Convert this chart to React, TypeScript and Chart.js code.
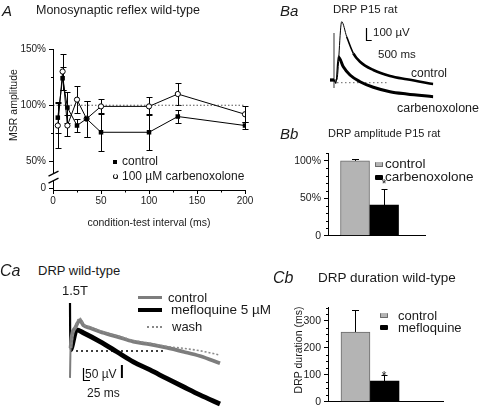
import React, { useEffect, useRef } from "react";
import { Chart, registerables } from "chart.js";

Chart.register(...registerables);

const FONT = "Arial, 'Liberation Sans', Helvetica, sans-serif";
Chart.defaults.font.family = FONT;
Chart.defaults.color = "#1a1a1a";

// ---------------- Panel A : monosynaptic reflex ----------------
const A_INTERVALS = [5, 10, 15, 25, 35, 50, 100, 130, 200];
const A_CONTROL = [89, 124, 98, 82, 88, 76, 76, 90, 82];
const A_CONTROL_SEM = [14, 10, 14, 6, 16, 17, 16, 6, 3];
const A_CARB = [82, 130, 82, 105, 88, 99, 99, 110, 92];
const A_CARB_SEM = [20, 16, 9, 12, 16, 7, 8, 10, 7];
const A_X_TICKS = [0, 50, 100, 150, 200];
const A_Y_TICKS = [26, 50, 100, 150]; // 26 = where the broken axis shows its zero
const A_Y_LABELS = ["0", "50%", "100%", "150%"];
const A_REFERENCE = 100;

// ---------------- Panel Ba : DRP traces (ms, µV) ----------------
const BA_CONTROL_T = [0, 333, 558, 974, 1390, 1940, 2498, 3605, 4995, 6385, 8600];
const BA_CONTROL = [22, 22, 22, 508, 383, 245, 175, 106, 56, 28, -11];
const BA_CARB_T = [0, 333, 500, 691, 1107, 1665, 2498, 3605, 4995, 6385, 8600];
const BA_CARB = [22, 22, -5, 217, 133, 64, 8, -38, -75, -94, -117];
const BA_ARTIFACT_T = [333, 333];
const BA_ARTIFACT = [414, -44];
const BA_BASELINE_T = [583, 4800];

// ---------------- Panel Bb : DRP amplitude ----------------
const BB_GROUPS = ["control", "carbenoxolone"];
const BB_MEAN = [100, 41];
const BB_SEM = [2, 22];
const BB_Y_TICKS = [0, 50, 100];
const BB_Y_LABELS = ["0", "50%", "100%"];

// ---------------- Panel Ca : DRP traces (ms, µV) ----------------
const CA_CONTROL_T = [0, 2, 17, 33, 44, 67, 100, 156, 211, 267, 322, 378, 433, 500];
const CA_CONTROL = [-112, 12, 96, 129, 108, 96, 80, 60, 39, 28, 14, -3, -21, -51];
const CA_WASH_T = [2, 17, 33, 44, 67, 100, 156, 211, 267, 322, 378, 433, 500];
const CA_WASH = [12, 100, 137, 112, 100, 84, 64, 44, 32, 19, 11, 1, -17];
const CA_MEFLO_T = [0, 1, 22, 44, 100, 156, 211, 267, 322, 378, 433, 500];
const CA_MEFLO = [200, 4, 88, 76, 39, -3, -45, -79, -114, -149, -183, -221];
const CA_BASELINE_T = [20, 317];
const CA_MARK_T = [173, 173];
const CA_MARK = [-58, -113];

// ---------------- Panel Cb : DRP duration ----------------
const CB_GROUPS = ["control", "mefloquine"];
const CB_MEAN = [259, 77];
const CB_SEM = [82, 23];
const CB_Y_TICKS = [0, 100, 200, 300];
const CB_Y_LABELS = ["0", "100", "200", "300"];

// group position on the (hidden) x scale of the bar panels
const BB_X = 0.428;
const CB_X = 0.365;

const pts = (xs: number[], ys: number[]) => xs.map((x, i) => ({ x, y: ys[i] }));

// ---------------- plugins ----------------
const errorBarPlugin = {
  id: "errorBars",
  beforeDatasetsDraw(chart: any) {
    const ctx = chart.ctx;
    chart.data.datasets.forEach((ds: any, i: number) => {
      if (!ds.errorBars) return;
      const meta = chart.getDatasetMeta(i);
      const ys = chart.scales[meta.yAxisID];
      ctx.save();
      ctx.strokeStyle = "#000";
      ctx.lineWidth = 1;
      meta.data.forEach((el: any, j: number) => {
        const err = ds.errorBars[j];
        if (err == null) return;
        const v = ds.data[j].y;
        const x = Math.round(el.x) + 0.5;
        const yHi = Math.round(ys.getPixelForValue(v + err)) + 0.5;
        const yLo = Math.round(ys.getPixelForValue(ds.errorUpOnly ? v : v - err)) + 0.5;
        const cap = ds.errorCap ?? 6;
        ctx.beginPath();
        ctx.moveTo(x, yLo);
        ctx.lineTo(x, yHi);
        ctx.moveTo(x - cap / 2, yHi);
        ctx.lineTo(x + cap / 2, yHi);
        if (!ds.errorUpOnly) {
          ctx.moveTo(x - cap / 2, yLo);
          ctx.lineTo(x + cap / 2, yLo);
        }
        ctx.stroke();
      });
      ctx.restore();
    });
  },
};

const minorTicksPlugin = {
  id: "minorTicks",
  afterDraw(chart: any, _a: any, opts: any) {
    const list = (opts && opts.list) || [];
    const ctx = chart.ctx;
    ctx.save();
    ctx.strokeStyle = "#000";
    ctx.lineWidth = 1;
    list.forEach((m: any) => {
      const s = chart.scales[m.axis];
      for (let v = m.from; v <= m.to + 1e-9; v += m.step) {
        if (s.ticks.some((t: any) => Math.abs(t.value - v) < 1e-6)) continue;
        const p = Math.round(s.getPixelForValue(v)) + 0.5;
        ctx.beginPath();
        if (m.axis === "x") {
          const y = chart.chartArea.bottom;
          ctx.moveTo(p, y);
          ctx.lineTo(p, y + m.len);
        } else {
          const x = Math.round(chart.chartArea.left) + 0.5;
          ctx.moveTo(x, p);
          ctx.lineTo(x - m.len, p);
        }
        ctx.stroke();
      }
    });
    ctx.restore();
  },
};

const axisBreakPlugin = {
  id: "axisBreak",
  afterDraw(chart: any, _a: any, opts: any) {
    if (!opts || opts.hi == null) return;
    const { ctx, chartArea } = chart;
    const y = chart.scales.y;
    const x = Math.round(chartArea.left) + 0.5;
    const pHi = y.getPixelForValue(opts.hi);
    const pLo = y.getPixelForValue(opts.lo);
    ctx.save();
    ctx.strokeStyle = "#000";
    ctx.lineWidth = 1;
    ctx.beginPath();
    ctx.moveTo(x, chartArea.top);
    ctx.lineTo(x, pHi);
    ctx.moveTo(x, pLo);
    ctx.lineTo(x, chartArea.bottom);
    ctx.stroke();
    ctx.lineWidth = 1.3;
    ctx.beginPath();
    [pHi, pLo].forEach((p: number) => {
      ctx.moveTo(x - 5, p + 2.5);
      ctx.lineTo(x + 5, p - 2.5);
    });
    ctx.stroke();
    ctx.restore();
  },
};

const scaleBarPlugin = {
  id: "scaleBar",
  afterDatasetsDraw(chart: any, _a: any, opts: any) {
    if (!opts || opts.t0 == null) return;
    const { ctx } = chart;
    const xs = chart.scales.x;
    const ys = chart.scales.y;
    const x0 = Math.round(xs.getPixelForValue(opts.t0)) + 0.5;
    const x1 = xs.getPixelForValue(opts.t0 + opts.dt);
    const y0 = Math.round(ys.getPixelForValue(opts.v0)) + 0.5;
    const y1 = ys.getPixelForValue(opts.v0 + opts.dv);
    ctx.save();
    ctx.strokeStyle = "#000";
    ctx.lineWidth = 1.2;
    ctx.beginPath();
    ctx.moveTo(x0, y1);
    ctx.lineTo(x0, y0);
    ctx.lineTo(x1, y0);
    ctx.stroke();
    ctx.restore();
  },
};

const PLUGINS = [errorBarPlugin, minorTicksPlugin, axisBreakPlugin, scaleBarPlugin];

const tickFont = (size: number) => ({ size, family: FONT });

// ---------------- configs ----------------
function configA(): any {
  return {
    type: "line",
    data: {
      datasets: [
        {
          label: "control",
          data: pts(A_INTERVALS, A_CONTROL),
          borderColor: "#000",
          borderWidth: 1,
          pointStyle: "rect",
          pointRadius: 3.2,
          pointBackgroundColor: "#000",
          pointBorderColor: "#000",
          pointBorderWidth: 0,
          errorBars: A_CONTROL_SEM,
          errorCap: 6,
        },
        {
          label: "100 µM carbenoxolone",
          data: pts(A_INTERVALS, A_CARB),
          borderColor: "#000",
          borderWidth: 1,
          pointStyle: "circle",
          pointRadius: 2.6,
          pointBackgroundColor: "#fff",
          pointBorderColor: "#000",
          pointBorderWidth: 1,
          errorBars: A_CARB_SEM,
          errorCap: 6,
        },
        {
          label: "reference",
          data: pts([A_X_TICKS[0], A_X_TICKS[A_X_TICKS.length - 1]], [A_REFERENCE, A_REFERENCE]),
          borderColor: "#555",
          borderWidth: 1,
          borderDash: [1.5, 2],
          pointRadius: 0,
        },
      ],
    },
    options: {
      responsive: false,
      animation: false,
      events: [],
      layout: { padding: { left: 3, right: 15, top: 49, bottom: 1 } },
      plugins: {
        legend: { display: false },
        tooltip: { enabled: false },
        minorTicks: {
          list: [
            { axis: "x", from: 0, to: 200, step: 25, len: 2.5 },
            { axis: "y", from: 50, to: 150, step: 25, len: 2.5 },
          ],
        },
        axisBreak: { hi: 39.3, lo: 33 },
      },
      scales: {
        x: {
          type: "linear",
          min: 0,
          max: 200,
          offset: false,
          afterBuildTicks: (s: any) => {
            s.ticks = A_X_TICKS.map((v) => ({ value: v }));
          },
          afterFit: (s: any) => {
            s.height = 39;
          },
          ticks: { font: tickFont(10), color: "#1a1a1a", padding: 1, maxRotation: 0, autoSkip: false },
          grid: { display: true, drawOnChartArea: false, tickLength: 4, color: "#000" },
          border: { display: true, color: "#000", width: 1 },
        },
        y: {
          type: "linear",
          min: 24.7,
          max: 150,
          afterBuildTicks: (s: any) => {
            s.ticks = A_Y_TICKS.map((v) => ({ value: v }));
          },
          afterFit: (s: any) => {
            s.width = 50;
          },
          ticks: {
            font: tickFont(10),
            color: "#1a1a1a",
            padding: 3,
            autoSkip: false,
            callback: (_v: any, i: number) => A_Y_LABELS[i],
          },
          grid: { display: true, drawOnChartArea: false, tickLength: 4, color: "#000" },
          border: { display: false },
        },
      },
    },
    plugins: PLUGINS,
  };
}

function traceConfig(datasets: any[], xr: number[], yr: number[], pad: any, bar: any): any {
  return {
    type: "line",
    data: { datasets },
    options: {
      responsive: false,
      animation: false,
      events: [],
      layout: { padding: pad },
      plugins: { legend: { display: false }, tooltip: { enabled: false }, scaleBar: bar },
      scales: {
        x: { type: "linear", display: false, min: xr[0], max: xr[1] },
        y: { type: "linear", display: false, min: yr[0], max: yr[1] },
      },
    },
    plugins: PLUGINS,
  };
}

function configBa(): any {
  const ds = [
    {
      label: "control",
      data: pts(BA_CONTROL_T, BA_CONTROL),
      borderColor: "#000",
      borderWidth: 2.5,
      pointRadius: 0,
      cubicInterpolationMode: "monotone",
      segment: {
        borderWidth: (c: any) => (c.p0DataIndex >= 1 && c.p0DataIndex <= 3 ? 1 : c.p0DataIndex === 4 ? 1.6 : 2.6),
      },
    },
    {
      label: "carbenoxolone",
      data: pts(BA_CARB_T, BA_CARB),
      borderColor: "#000",
      borderWidth: 3,
      pointRadius: 0,
      cubicInterpolationMode: "monotone",
      segment: {
        borderWidth: (c: any) => (c.p0DataIndex >= 1 && c.p0DataIndex <= 2 ? 1.3 : 3),
      },
    },
    {
      label: "artifact",
      data: pts(BA_ARTIFACT_T, BA_ARTIFACT),
      borderColor: "#8a8a8a",
      borderWidth: 1,
      pointRadius: 0,
    },
    {
      label: "baseline",
      data: pts(BA_BASELINE_T, [0, 0]),
      borderColor: "#666",
      borderWidth: 1,
      borderDash: [1.5, 2.5],
      pointRadius: 0,
    },
  ];
  return traceConfig(ds, [0, 8600], [-200, 600], { left: 10, right: 11.7, top: 10.7, bottom: 8.3 }, {
    t0: 2973,
    v0: 356,
    dt: 500,
    dv: 100,
  });
}

function configCa(): any {
  const ds = [
    {
      label: "wash",
      data: pts(CA_WASH_T, CA_WASH),
      borderColor: "#8a8a8a",
      borderWidth: 1.6,
      borderDash: [2, 2],
      pointRadius: 0,
      cubicInterpolationMode: "monotone",
    },
    {
      label: "control",
      data: pts(CA_CONTROL_T, CA_CONTROL),
      borderColor: "#7d7d7d",
      borderWidth: 3.8,
      pointRadius: 0,
      cubicInterpolationMode: "monotone",
      segment: { borderWidth: (c: any) => (c.p0DataIndex === 0 ? 2 : 3.8) },
    },
    {
      label: "mefloquine 5 µM",
      data: pts(CA_MEFLO_T, CA_MEFLO),
      borderColor: "#000",
      borderWidth: 4.8,
      pointRadius: 0,
      cubicInterpolationMode: "monotone",
      segment: { borderWidth: (c: any) => (c.p0DataIndex === 0 ? 2.2 : 4.8) },
    },
    {
      label: "mark",
      data: pts(CA_MARK_T, CA_MARK),
      borderColor: "#000",
      borderWidth: 2,
      pointRadius: 0,
    },
    {
      label: "baseline",
      data: pts(CA_BASELINE_T, [0, 0]),
      borderColor: "#000",
      borderWidth: 1.5,
      borderDash: [2, 3],
      pointRadius: 0,
    },
  ];
  return traceConfig(ds, [-20, 510], [-250, 210], { left: 9, right: 7, top: 5.6, bottom: 0 }, {
    t0: 41.7,
    v0: -121,
    dt: 25,
    dv: 50,
  });
}

function barConfig(
  groups: string[],
  mean: number[],
  sem: number[],
  xPos: number,
  yMax: number,
  yTicks: number[],
  yLabels: string[],
  minorStep: number,
  pad: any
): any {
  return {
    type: "bar",
    data: {
      datasets: [
        {
          label: groups[0],
          data: [{ x: xPos, y: mean[0] }],
          backgroundColor: "#b4b4b4",
          borderColor: "#6a6a6a",
          borderWidth: 1,
          barThickness: 29,
          errorBars: [sem[0]],
          errorUpOnly: true,
          errorCap: 7,
        },
        {
          label: groups[1],
          data: [{ x: xPos, y: mean[1] }],
          backgroundColor: "#000",
          borderColor: "#000",
          borderWidth: 0,
          barThickness: 29,
          errorBars: [sem[1]],
          errorUpOnly: true,
          errorCap: 6,
        },
      ],
    },
    options: {
      responsive: false,
      animation: false,
      events: [],
      layout: { padding: pad },
      plugins: {
        legend: { display: false },
        tooltip: { enabled: false },
        minorTicks: { list: [{ axis: "y", from: 0, to: yMax, step: minorStep, len: 2.5 }] },
      },
      scales: {
        x: {
          type: "linear",
          min: 0,
          max: 1,
          offset: false,
          ticks: { display: false },
          grid: { display: false },
          border: { display: true, color: "#000", width: 1 },
          afterFit: (s: any) => {
            s.height = 0;
          },
        },
        y: {
          type: "linear",
          min: 0,
          max: yMax,
          afterBuildTicks: (s: any) => {
            s.ticks = yTicks.map((v) => ({ value: v }));
          },
          afterFit: (s: any) => {
            s.width = 48;
          },
          ticks: {
            font: tickFont(10.5),
            color: "#1a1a1a",
            padding: 3,
            autoSkip: false,
            callback: (_v: any, i: number) => yLabels[i],
          },
          grid: { display: true, drawOnChartArea: false, tickLength: 4, color: "#000" },
          border: { display: true, color: "#000", width: 1 },
        },
      },
    },
    plugins: PLUGINS,
  };
}

// ---------------- components ----------------
function ChartBox({ left, top, width, height, make }: any) {
  const ref = useRef<HTMLCanvasElement>(null);
  useEffect(() => {
    const c = new Chart(ref.current as HTMLCanvasElement, make());
    return () => c.destroy();
  }, []);
  return (
    <canvas
      ref={ref}
      width={width}
      height={height}
      style={{ position: "absolute", left, top, width, height, display: "block" }}
    />
  );
}

function T({ x, y, s, it, center, rot, children }: any) {
  let transform = "translateY(-50%)";
  if (center) transform = "translate(-50%,-50%)";
  if (rot) transform = "translate(-50%,-50%) rotate(-90deg)";
  return (
    <div
      style={{
        position: "absolute",
        left: x,
        top: y,
        fontSize: s,
        lineHeight: 1,
        fontFamily: FONT,
        fontStyle: it ? "italic" : "normal",
        whiteSpace: "nowrap",
        color: "#1a1a1a",
        transform,
      }}
    >
      {children}
    </div>
  );
}

function Box({ x, y, w, h, bg, border, radius, borderTop }: any) {
  return (
    <div
      style={{
        position: "absolute",
        left: x,
        top: y,
        width: w,
        height: h,
        background: bg,
        border,
        borderTop,
        borderRadius: radius,
        boxSizing: "border-box",
      }}
    />
  );
}

export default function App() {
  return (
    <div
      style={{
        position: "absolute",
        left: 0,
        top: 0,
        width: 480,
        height: 411,
        background: "#fff",
        overflow: "hidden",
        fontFamily: FONT,
      }}
    >
      {/* Panel A */}
      <ChartBox left={0} top={0} width={260} height={230} make={configA} />
      <T x={2} y={10} s={15} it>
        A
      </T>
      <T x={36} y={10} s={12.5}>
        Monosynaptic reflex wild-type
      </T>
      <T x={12.5} y={105} s={10.5} rot>
        MSR amplitude
      </T>
      <T x={149} y={222} s={10.5} center>
        condition-test interval (ms)
      </T>
      <Box x={113} y={160} w={4} h={4} bg="#000" />
      <T x={122} y={161} s={12}>
        control
      </T>
      <Box x={112.5} y={173.5} w={5} h={5} bg="#fff" border="1px solid #000" radius="50%" />
      <T x={122} y={176} s={12}>
        100 µM carbenoxolone
      </T>

      {/* Panel Ba */}
      <ChartBox left={320} top={0} width={125} height={115} make={configBa} />
      <T x={280} y={10} s={15} it>
        Ba
      </T>
      <T x={333} y={10} s={11.5}>
        DRP P15 rat
      </T>
      <T x={373} y={33} s={11.5}>
        100 µV
      </T>
      <T x={378} y={55} s={11.5}>
        500 ms
      </T>
      <T x={411} y={73} s={12}>
        control
      </T>
      <T x={397} y={108} s={12.5}>
        carbenoxolone
      </T>

      {/* Panel Bb */}
      <ChartBox
        left={280}
        top={140}
        width={160}
        height={105}
        make={() =>
          barConfig(BB_GROUPS, BB_MEAN, BB_SEM, BB_X, 110, BB_Y_TICKS, BB_Y_LABELS, 10, {
            left: 0,
            right: 15,
            top: 13.4,
            bottom: 8,
          })
        }
      />
      <T x={280} y={133} s={15} it>
        Bb
      </T>
      <T x={328} y={133} s={11}>
        DRP amplitude P15 rat
      </T>
      <Box x={375} y={162} w={8} h={4.5} bg="#b4b4b4" border="1px solid #6a6a6a" radius={1} />
      <T x={385} y={164} s={13.5}>
        {BB_GROUPS[0]}
      </T>
      <Box x={375} y={175} w={8} h={4.5} bg="#000" radius={1} />
      <T x={385} y={177} s={13.5}>
        {BB_GROUPS[1]}
      </T>
      <T x={384} y={184} s={12} center>
        *
      </T>

      {/* Panel Ca */}
      <ChartBox left={55} top={295} width={175} height={116} make={configCa} />
      <T x={0} y={271} s={16} it>
        Ca
      </T>
      <T x={38} y={270} s={13}>
        DRP wild-type
      </T>
      <T x={62} y={290} s={13}>
        1.5T
      </T>
      <Box x={138} y={295.5} w={24} h={3} bg="#7d7d7d" />
      <T x={168} y={297} s={13}>
        control
      </T>
      <Box x={138} y={308} w={24} h={4} bg="#000" />
      <T x={171} y={310} s={13.5}>
        mefloquine 5 µM
      </T>
      <Box x={147} y={326} w={15} h={2} borderTop="2px dotted #888" />
      <T x={172} y={326} s={13}>
        wash
      </T>
      <T x={85} y={374} s={12}>
        50 µV
      </T>
      <T x={87} y={393} s={12}>
        25 ms
      </T>

      {/* Panel Cb */}
      <ChartBox
        left={280}
        top={290}
        width={170}
        height={121}
        make={() =>
          barConfig(CB_GROUPS, CB_MEAN, CB_SEM, CB_X, 350, CB_Y_TICKS, CB_Y_LABELS, 25, {
            left: 0,
            right: 7,
            top: 17.5,
            bottom: 4,
          })
        }
      />
      <T x={273} y={278} s={16} it>
        Cb
      </T>
      <T x={318} y={278} s={13.5}>
        DRP duration wild-type
      </T>
      <T x={298} y={350} s={10.5} rot>
        DRP duration (ms)
      </T>
      <Box x={380} y={312.5} w={8} h={5} bg="#b4b4b4" border="1px solid #6a6a6a" radius={1} />
      <T x={398} y={315} s={13}>
        {CB_GROUPS[0]}
      </T>
      <Box x={380} y={324.5} w={8} h={5} bg="#000" radius={1} />
      <T x={398} y={327} s={13}>
        {CB_GROUPS[1]}
      </T>
      <T x={384} y={376} s={12} center>
        *
      </T>
    </div>
  );
}
